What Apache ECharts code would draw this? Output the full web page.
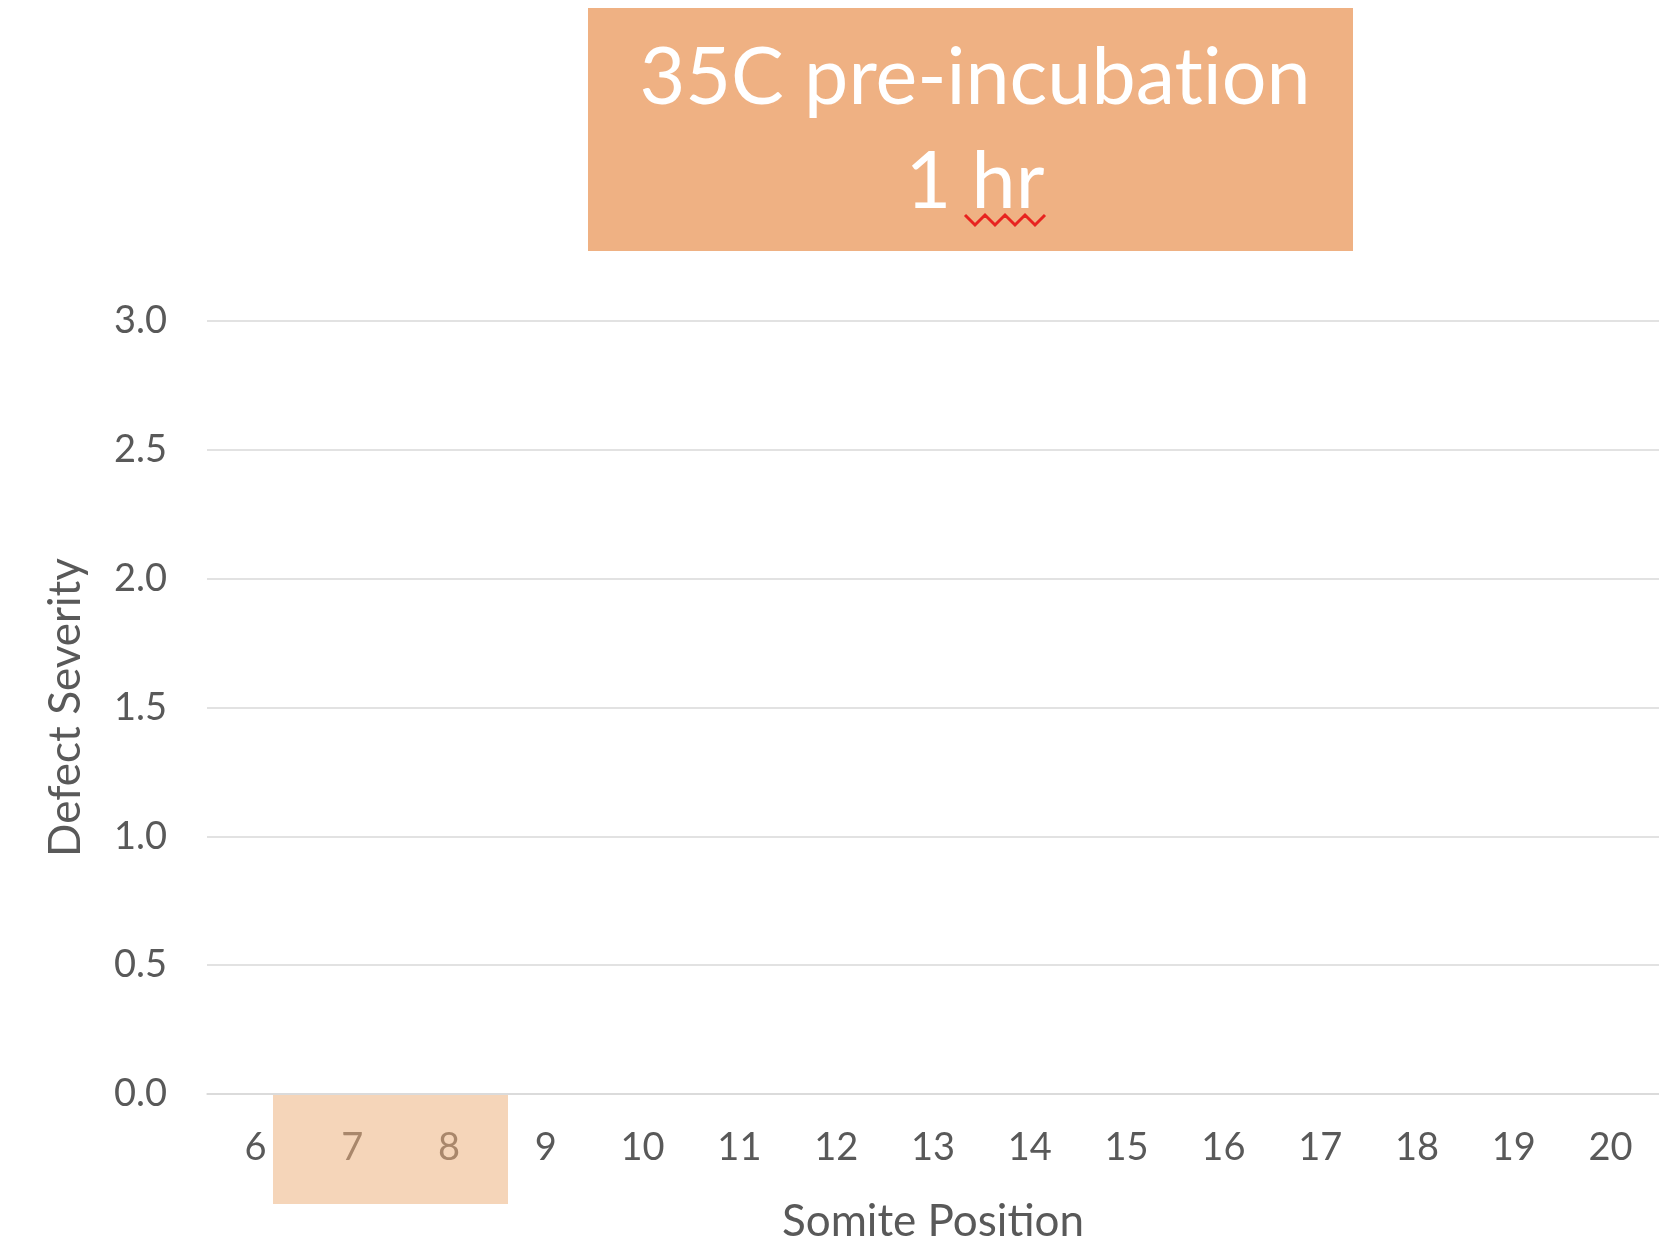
<!DOCTYPE html>
<html>
<head>
<meta charset="utf-8">
<script src="https://cdn.jsdelivr.net/npm/echarts@6/dist/echarts.min.js"></script>
<style>
html,body{margin:0;padding:0;background:#fff;}
#chart{width:1659px;height:1251px;}
</style>
</head>
<body>
<div id="chart"></div>
<script>
var categories = ['6','7','8','9','10','11','12','13','14','15','16','17','18','19','20'];
var severity = [0,0,0,0,0,0,0,0,0,0,0,0,0,0,0];
var highlighted = ['7','8'];
var titleLines = ['35C pre-incubat\u200Cion', '1 hr'];
var xName = 'Somite Position';
var yName = 'Defect Severity';

var FONT = 'Lato, "Open Sans", sans-serif';
var chart = echarts.init(document.getElementById('chart'));

var catData = categories.map(function (c) {
  return highlighted.indexOf(c) >= 0
    ? { value: c, textStyle: { color: '#a9876b' } }
    : c;
});

chart.setOption({
  backgroundColor: '#ffffff',
  animation: false,
  title: {
    text: titleLines.join('\n'),
    left: 970,
    top: 22,
    textAlign: 'center',
    textStyle: {
      color: '#ffffff',
      fontFamily: FONT,
      fontWeight: 'normal',
      fontSize: 79,
      lineHeight: 104
    }
  },
  grid: { left: 207, right: 0, top: 321, bottom: 157, containLabel: false },
  xAxis: {
    type: 'category',
    data: catData,
    name: xName,
    nameLocation: 'middle',
    nameGap: 106,
    nameTextStyle: { color: '#595959', fontFamily: FONT, fontSize: 44, lineHeight: 44 },
    axisLine: { show: true, lineStyle: { color: '#d9d9d9', width: 1.5 } },
    axisTick: { show: false },
    axisLabel: { color: '#595959', fontFamily: FONT, fontSize: 38, margin: 35, lineHeight: 38 },
    z: 5
  },
  yAxis: {
    type: 'value',
    min: 0,
    max: 3,
    interval: 0.5,
    name: yName,
    nameLocation: 'middle',
    nameGap: 119,
    nameTextStyle: { color: '#595959', fontFamily: FONT, fontSize: 44 },
    axisLine: { show: false },
    axisTick: { show: false },
    axisLabel: {
      color: '#595959', fontFamily: FONT, fontSize: 38, margin: 40,
      formatter: function (v) { return v.toFixed(1); }
    },
    splitLine: { lineStyle: { color: '#d9d9d9', width: 1.5 } }
  },
  graphic: [
    {
      type: 'rect',
      shape: { x: 588, y: 8, width: 765, height: 243 },
      style: { fill: '#efb183' },
      z: -10
    },
    {
      type: 'polyline',
      shape: { points: [[965,215],[975,225],[985,215],[995,225],[1005,215],[1015,225],[1025,215],[1035,225],[1045,215]] },
      style: { stroke: '#e8231f', lineWidth: 3, fill: null },
      z: 10
    },
    {
      type: 'rect',
      shape: { x: 273, y: 1095, width: 235, height: 109 },
      style: { fill: '#f5d5b9' },
      z: -10
    }
  ],
  series: [{
    type: 'bar',
    data: severity,
    itemStyle: { color: '#ed7d31' }
  }]
});
</script>
</body>
</html>
